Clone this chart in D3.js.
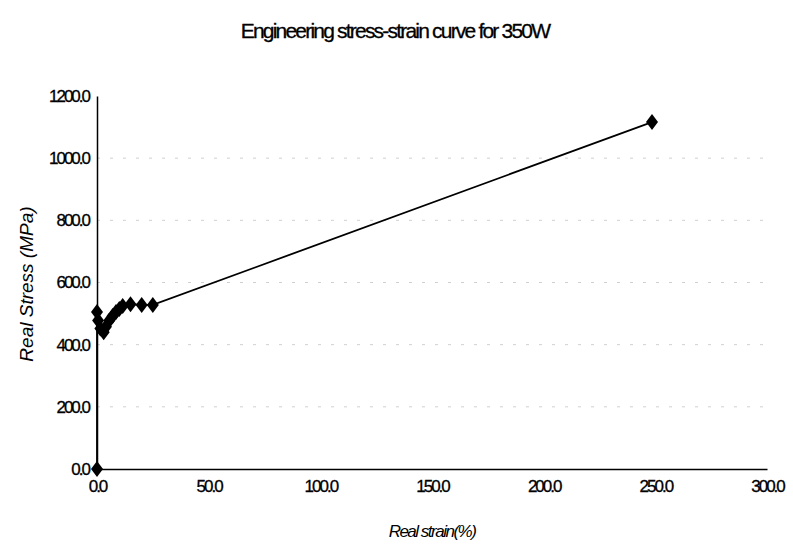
<!DOCTYPE html>
<html>
<head>
<meta charset="utf-8">
<script src="https://cdn.jsdelivr.net/npm/d3@7"></script>
<style>
  body { margin: 0; background: #fff; }
  text { font-family: "Liberation Sans", Arial, sans-serif; fill: #000; }
</style>
</head>
<body>
<div id="chart"></div>
<script>
// Data
const strain = [0, 0, 0.5, 1.5, 3, 4, 5.5, 7, 8.5, 10, 11.5, 15, 20, 25, 248.5];
const stress = [0, 505, 478, 452, 440, 458, 478, 492, 505, 515, 524, 530, 528, 528, 1116];
const xTicks = [0, 50, 100, 150, 200, 250, 300];
const yTicks = [0, 200, 400, 600, 800, 1000, 1200];
const gridLevels = [200, 400, 600, 800, 1000];

const svgWidth = 793;
const svgHeight = 560;
const margins = {left: 97, top: 96, right: 26, bottom: 91};

const svg = d3.select('#chart').append('svg')
  .attr('width', svgWidth)
  .attr('height', svgHeight)
  .style('background-color', 'white');

const xScale = d3.scaleLinear().domain([0, 300])
  .range([margins.left, svgWidth - margins.right]);
const yScale = d3.scaleLinear().domain([0, 1200])
  .range([svgHeight - margins.bottom, margins.top]);

// faint gridlines
svg.append('g')
  .selectAll('line')
  .data(gridLevels)
  .enter()
  .append('line')
  .attr('x1', xScale(0))
  .attr('x2', xScale(300))
  .attr('y1', d => yScale(d))
  .attr('y2', d => yScale(d))
  .attr('stroke', '#d0d0d0')
  .attr('stroke-width', 1)
  .attr('stroke-dasharray', '3,10');

// axes
const xAxis = d3.axisBottom(xScale).tickValues(xTicks).tickSize(0).tickPadding(11)
  .tickFormat(d3.format('.1f'));
const yAxis = d3.axisLeft(yScale).tickValues(yTicks).tickSize(0).tickPadding(8)
  .tickFormat(d3.format('.1f'));

function styleTicks(g) {
  g.select('.domain').attr('stroke', '#000').attr('stroke-width', 1.5);
  g.selectAll('text')
    .attr('font-size', 17)
    .attr('letter-spacing', '-2px')
    .attr('stroke', '#000')
    .attr('stroke-width', 0.3)
    .attr('font-family', '"Liberation Sans", Arial, sans-serif');
}

const gx = svg.append('g')
  .attr('transform', 'translate(0,' + yScale(0) + ')')
  .call(xAxis);
styleTicks(gx);

const gy = svg.append('g')
  .attr('transform', 'translate(' + xScale(0) + ',0)')
  .call(yAxis);
styleTicks(gy);

// series line
const points = strain.map((s, i) => ({x: s, y: stress[i]}));
svg.append('path')
  .datum(points)
  .attr('fill', 'none')
  .attr('stroke', '#000')
  .attr('stroke-width', 1.8)
  .attr('d', d3.line().x(d => xScale(d.x)).y(d => yScale(d.y)));

// diamond markers
svg.append('g')
  .selectAll('path')
  .data(points)
  .enter()
  .append('path')
  .attr('transform', d => 'translate(' + xScale(d.x) + ',' + yScale(d.y) + ')')
  .attr('d', 'M0,-8L6,0L0,8L-6,0Z')
  .attr('fill', '#000');

// title
svg.append('text')
  .attr('x', 395)
  .attr('y', 38)
  .attr('text-anchor', 'middle')
  .attr('font-size', 21)
  .attr('letter-spacing', '-1.8px')
  .attr('stroke', '#000')
  .attr('stroke-width', 0.3)
  .text('Engineering stress-strain curve for 350W');

// axis labels
svg.append('text')
  .attr('transform', 'translate(33,' + yScale(595) + ')rotate(-90)')
  .attr('text-anchor', 'middle')
  .attr('font-size', 19)
  .attr('font-style', 'italic')
  .text('Real Stress (MPa)');

svg.append('text')
  .attr('x', 432)
  .attr('y', 537)
  .attr('text-anchor', 'middle')
  .attr('font-size', 17)
  .attr('font-style', 'italic')
  .attr('letter-spacing', '-1.5px')
  .text('Real strain(%)');
</script>
</body>
</html>
